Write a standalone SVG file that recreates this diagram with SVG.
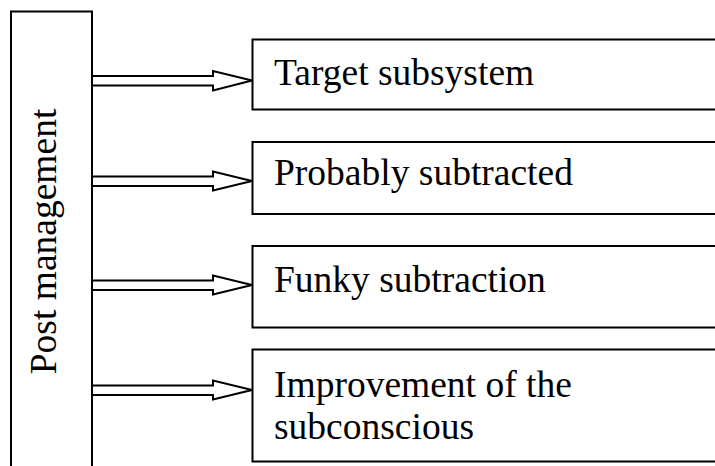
<svg xmlns="http://www.w3.org/2000/svg" width="715" height="466" viewBox="0 0 715 466">
<style>
.box{fill:#fff;stroke:#000;stroke-width:2}
.arr{fill:#fff;stroke:#000;stroke-width:2;stroke-linejoin:miter}
text{font-family:"Liberation Serif","Times New Roman",serif;font-size:37.5px;fill:#000}
</style>
<rect width="715" height="466" fill="#fff"/>
<g id="post">
<rect class="box" x="11" y="11.5" width="81" height="470"/>
<text transform="translate(56,241.5) rotate(-90)" text-anchor="middle">Post management</text>
</g>
<g id="n1">
<rect class="box" x="252.5" y="39.5" width="480" height="70"/>
<text x="274" y="85">Target subsystem</text>
</g>
<g id="n2">
<rect class="box" x="252.5" y="142" width="480" height="72"/>
<text x="274" y="185">Probably subtracted</text>
</g>
<g id="n3">
<rect class="box" x="252.5" y="246" width="480" height="81.5"/>
<text x="274" y="292">Funky subtraction</text>
</g>
<g id="n4">
<rect class="box" x="252.5" y="349.5" width="480" height="112"/>
<text x="274" y="397">Improvement of the</text>
<text x="274" y="439">subconscious</text>
</g>
<g id="connectors">
<polygon class="arr" points="92,76 213,76 213,71 252,80.5 213,90.5 213,85.5 92,85.5"/>
<polygon class="arr" points="92,176.5 213,176.5 213,171.5 252,181 213,190.5 213,186 92,186"/>
<polygon class="arr" points="92,280.5 213,280.5 213,275.5 252,285 213,294.5 213,290 92,290"/>
<polygon class="arr" points="92,385.5 213,385.5 213,380.5 252,390 213,399.5 213,395 92,395"/>
</g>
</svg>
